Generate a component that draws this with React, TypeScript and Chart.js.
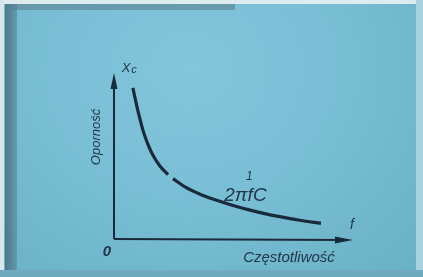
import React, { useEffect, useRef } from "react";
import { Chart, registerables } from "chart.js";

Chart.register(...registerables);

// Values (arbitrary units: 0–100 along each axis)
const frequency = [7.9, 8.8, 9.6, 10.9, 12.1, 14.2, 16.3, 19.2, 22.6, 23.6, 24.7, 29.7, 36.0, 42.3, 49.8, 56.9, 64.0, 71.5, 77.8, 86.6];
const reactance: (number | null)[] = [91.0, 85.0, 79.8, 72.0, 65.6, 57.0, 50.4, 44.0, 38.8, null, 36.4, 31.4, 27.0, 23.6, 20.2, 17.4, 15.0, 12.9, 11.3, 9.4];
const xAxisTitle = "Częstotliwość";
const yAxisTitle = "Oporność";
const yAxisSymbol = "X";
const yAxisSymbolSub = "c";
const xAxisSymbol = "f";
const originLabel = "0";
const formulaNum = "1";
const formulaDen = "2πfC";

const INK = "rgb(26,42,60)";
const TEXT = "rgb(34,54,76)";

const axesPlugin = {
  id: "handAxes",
  beforeDatasetsDraw(chart: any) {
    const { ctx, chartArea } = chart;
    const { left, right, top, bottom } = chartArea;
    ctx.save();
    ctx.strokeStyle = INK;
    ctx.fillStyle = INK;
    ctx.lineWidth = 2;
    // y axis
    ctx.beginPath();
    ctx.moveTo(left, bottom);
    ctx.lineTo(left, top + 6);
    ctx.stroke();
    ctx.beginPath();
    ctx.moveTo(left, top);
    ctx.lineTo(left - 3.5, top + 16);
    ctx.lineTo(left + 3.5, top + 16);
    ctx.closePath();
    ctx.fill();
    // x axis
    ctx.beginPath();
    ctx.moveTo(left, bottom);
    ctx.lineTo(right - 6, bottom + 1);
    ctx.stroke();
    ctx.beginPath();
    ctx.moveTo(right, bottom + 1);
    ctx.lineTo(right - 18, bottom - 2.5);
    ctx.lineTo(right - 18, bottom + 4.5);
    ctx.closePath();
    ctx.fill();
    ctx.restore();
  },
  afterDraw(chart: any) {
    const { ctx, chartArea, scales } = chart;
    const { left, right, top, bottom } = chartArea;
    ctx.save();
    ctx.fillStyle = TEXT;
    ctx.textBaseline = "middle";
    ctx.textAlign = "center";
    // Xc
    ctx.font = "italic 13px 'Liberation Sans'";
    ctx.fillText(yAxisSymbol, left + 12, top - 5);
    ctx.font = "italic 11px 'Liberation Sans'";
    ctx.fillText(yAxisSymbolSub, left + 20, top - 3);
    // f
    ctx.font = "italic 14px 'Liberation Sans'";
    ctx.fillText(xAxisSymbol, right - 1, bottom - 14);
    // 0
    ctx.font = "italic bold 15px 'Liberation Sans'";
    ctx.fillText(originLabel, left - 7, bottom + 13);
    // x title
    ctx.font = "italic 15px 'Liberation Sans'";
    ctx.fillText(xAxisTitle, left + 175, bottom + 19);
    // y title
    ctx.save();
    ctx.translate(left - 18, top + 64);
    ctx.rotate(-Math.PI / 2);
    ctx.font = "italic 13px 'Liberation Sans'";
    ctx.fillText(yAxisTitle, 0, 0);
    ctx.restore();
    // formula near the curve
    const fx = scales.x.getPixelForValue(55);
    const fy = scales.y.getPixelForValue(36);
    ctx.font = "italic 12px 'Liberation Sans'";
    ctx.fillText(formulaNum, fx + 4, fy - 3);
    ctx.font = "italic 19px 'Liberation Sans'";
    ctx.fillText(formulaDen, fx, fy + 16);
    ctx.restore();
  },
};

function ReactanceChart() {
  const ref = useRef<HTMLCanvasElement | null>(null);
  useEffect(() => {
    if (!ref.current) return;
    const chart = new Chart(ref.current, {
      type: "line",
      data: {
        datasets: [
          {
            data: frequency.map((f, i) => ({ x: f, y: reactance[i] as any })),
            borderColor: INK,
            borderWidth: 3.2,
            pointRadius: 0,
            cubicInterpolationMode: "monotone",
            spanGaps: false,
            fill: false,
          },
        ],
      },
      options: {
        animation: false,
        responsive: false,
        maintainAspectRatio: false,
        layout: { padding: { left: 114, right: 70, top: 73, bottom: 38 } },
        plugins: { legend: { display: false }, tooltip: { enabled: false } },
        scales: {
          x: { type: "linear", min: 0, max: 100, display: false },
          y: { type: "linear", min: 0, max: 100, display: false },
        },
      },
      plugins: [axesPlugin],
    });
    return () => chart.destroy();
  }, []);
  return <canvas ref={ref} width={423} height={277} style={{ position: "absolute", left: 0, top: 0 }} />;
}

export default function App() {
  return (
    <div
      style={{
        position: "fixed",
        left: 0,
        top: 0,
        width: 423,
        height: 277,
        overflow: "hidden",
        background:
          "radial-gradient(ellipse at 45% 25%, rgb(130,198,220) 0%, rgb(120,190,212) 45%, rgb(104,176,196) 100%)",
      }}
    >
      <div style={{ position: "absolute", left: 0, top: 0, width: 423, height: 4, background: "rgb(222,236,240)" }} />
      <div style={{ position: "absolute", left: 0, top: 0, width: 4, height: 277, background: "rgb(215,230,236)" }} />
      <div style={{ position: "absolute", left: 5, top: 4, width: 12, height: 273, background: "linear-gradient(90deg, rgb(70,110,126), rgb(95,150,168))", opacity: 0.85 }} />
      <div style={{ position: "absolute", left: 5, top: 4, width: 230, height: 6, background: "rgb(90,130,145)", opacity: 0.6 }} />
      <div style={{ position: "absolute", left: 416, top: 0, width: 7, height: 277, background: "rgb(170,210,224)" }} />
      <div style={{ position: "absolute", left: 0, top: 270, width: 423, height: 7, background: "rgb(112,170,190)" }} />
      <ReactanceChart />
    </div>
  );
}
